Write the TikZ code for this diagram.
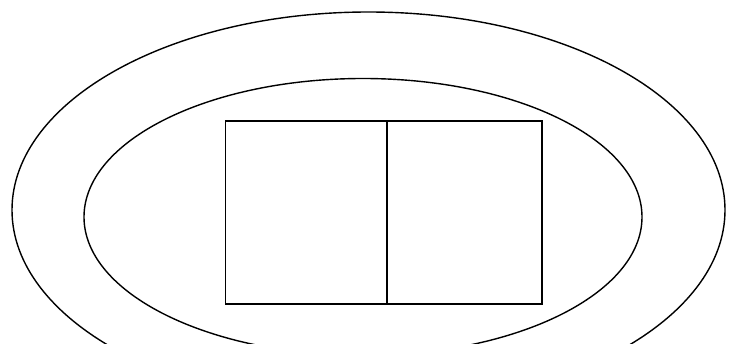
\documentclass[tikz,border=0pt]{standalone}
\begin{document}
\begin{tikzpicture}[x=1pt,y=-1pt,
  shapeline/.style={draw=black,line width=1.4pt},
  boxline/.style={draw=black,line width=1.8pt}]
\useasboundingbox (0,0) rectangle (731,350);
\clip (0,0) rectangle (731,343);
\draw[shapeline] (368.5,210) ellipse [x radius=356.5, y radius=198];
\draw[shapeline] (363,217) ellipse [x radius=279, y radius=138.5];
\draw[boxline] (225.5,121) rectangle (542,304);
\draw[shapeline] (387,121) -- (387,304);
\end{tikzpicture}
\end{document}
